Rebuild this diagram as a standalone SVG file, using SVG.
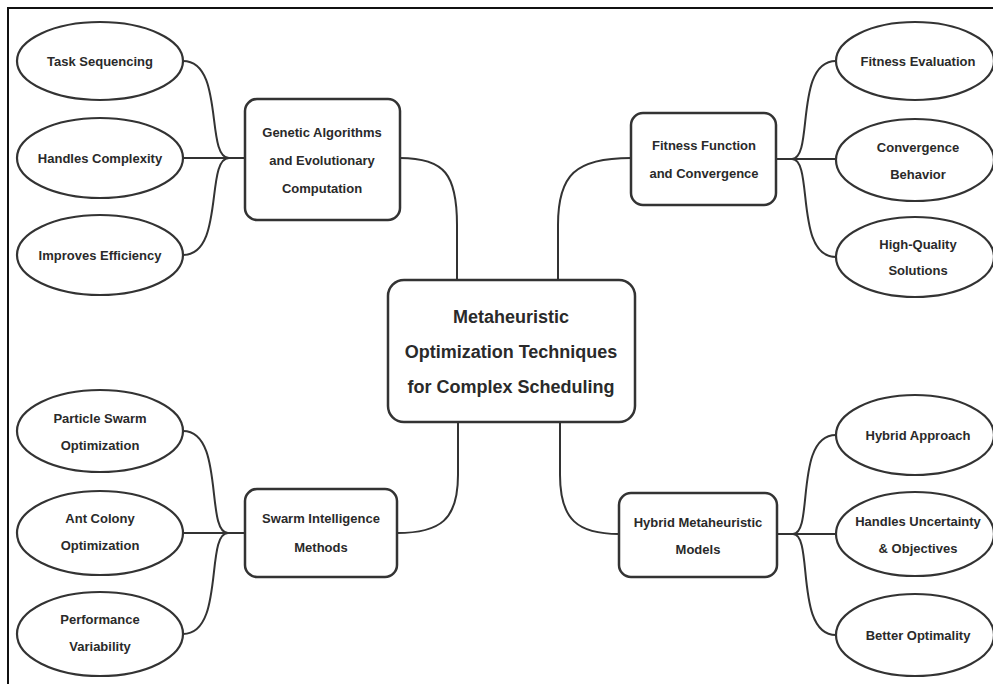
<svg xmlns="http://www.w3.org/2000/svg" width="993" height="684" viewBox="0 0 993 684">
  <style>
    .frame { fill: none; stroke: #111; stroke-width: 2; }
    .box { fill: #fff; stroke: #333; stroke-width: 2.5; }
    .leaf { fill: #fff; stroke: #333; stroke-width: 2.2; }
    .link { fill: none; stroke: #333; stroke-width: 2; }
    text { font-family: "Liberation Sans", Arial, sans-serif; font-weight: bold; fill: #2a2a2a; text-anchor: middle; }
    .t13 { font-size: 13px; }
    .t18 { font-size: 18px; }
  </style>

  <rect width="993" height="684" fill="#fff"/>
  <!-- frame edges: top and left -->
  <path class="frame" d="M8,684 L8,8 L993,8"/>

  <!-- connectors -->
  <g id="connectors">
    <!-- center to branch boxes -->
    <path class="link" d="M400,158 C445,158 457,175 457,225 L457,280"/>
    <path class="link" d="M558,280 L558,225 C558,175 575,158 631,158"/>
    <path class="link" d="M458,422 L458,475 C458,520 440,533 397,533"/>
    <path class="link" d="M560,422 L560,475 C560,520 578,534 619,534"/>
    <!-- genetic algorithms leaves -->
    <path class="link" d="M183,61 C225,61 205,158 229,158"/>
    <path class="link" d="M183,158 L245,158"/>
    <path class="link" d="M183,255 C225,255 205,158 229,158"/>
    <!-- fitness leaves -->
    <path class="link" d="M836,61 C794,61 814,159 792,159"/>
    <path class="link" d="M776,159 L836,159"/>
    <path class="link" d="M836,257 C794,257 814,159 792,159"/>
    <!-- swarm leaves -->
    <path class="link" d="M183,431 C225,431 205,533 228,533"/>
    <path class="link" d="M183,533 L245,533"/>
    <path class="link" d="M183,634 C225,634 205,533 228,533"/>
    <!-- hybrid leaves -->
    <path class="link" d="M836,435 C794,435 814,534 793,534"/>
    <path class="link" d="M777,534 L836,534"/>
    <path class="link" d="M836,635 C794,635 814,534 793,534"/>
  </g>

  <!-- central node -->
  <g id="center">
    <rect class="box" x="388" y="280" width="247" height="142" rx="16"/>
    <text class="t18" x="511" y="323">Metaheuristic</text>
    <text class="t18" x="511" y="358">Optimization Techniques</text>
    <text class="t18" x="511" y="393">for Complex Scheduling</text>
  </g>

  <!-- branch nodes -->
  <g id="genetic">
    <rect class="box" x="245" y="99" width="155" height="121" rx="12"/>
    <text class="t13" x="322" y="137">Genetic Algorithms</text>
    <text class="t13" x="322" y="165">and Evolutionary</text>
    <text class="t13" x="322" y="193">Computation</text>
  </g>
  <g id="fitness">
    <rect class="box" x="631" y="113" width="145" height="92" rx="12"/>
    <text class="t13" x="704" y="150">Fitness Function</text>
    <text class="t13" x="704" y="178">and Convergence</text>
  </g>
  <g id="swarm">
    <rect class="box" x="245" y="489" width="152" height="88" rx="12"/>
    <text class="t13" x="321" y="523">Swarm Intelligence</text>
    <text class="t13" x="321" y="552">Methods</text>
  </g>
  <g id="hybrid">
    <rect class="box" x="619" y="493" width="158" height="84" rx="12"/>
    <text class="t13" x="698" y="527">Hybrid Metaheuristic</text>
    <text class="t13" x="698" y="554">Models</text>
  </g>

  <!-- leaf nodes, left column -->
  <g id="task-sequencing">
    <ellipse class="leaf" cx="100" cy="61" rx="83" ry="39"/>
    <text class="t13" x="100" y="66">Task Sequencing</text>
  </g>
  <g id="handles-complexity">
    <ellipse class="leaf" cx="100" cy="158" rx="83" ry="40"/>
    <text class="t13" x="100" y="163">Handles Complexity</text>
  </g>
  <g id="improves-efficiency">
    <ellipse class="leaf" cx="100" cy="255" rx="83" ry="40"/>
    <text class="t13" x="100" y="260">Improves Efficiency</text>
  </g>
  <g id="particle-swarm">
    <ellipse class="leaf" cx="100" cy="431" rx="83" ry="41"/>
    <text class="t13" x="100" y="423">Particle Swarm</text>
    <text class="t13" x="100" y="450">Optimization</text>
  </g>
  <g id="ant-colony">
    <ellipse class="leaf" cx="100" cy="533" rx="83" ry="42"/>
    <text class="t13" x="100" y="523">Ant Colony</text>
    <text class="t13" x="100" y="550">Optimization</text>
  </g>
  <g id="performance-variability">
    <ellipse class="leaf" cx="100" cy="634" rx="83" ry="42"/>
    <text class="t13" x="100" y="624">Performance</text>
    <text class="t13" x="100" y="651">Variability</text>
  </g>

  <!-- leaf nodes, right column -->
  <g id="fitness-evaluation">
    <ellipse class="leaf" cx="915" cy="61" rx="79" ry="39"/>
    <text class="t13" x="918" y="66">Fitness Evaluation</text>
  </g>
  <g id="convergence-behavior">
    <ellipse class="leaf" cx="915" cy="160" rx="79" ry="41"/>
    <text class="t13" x="918" y="152">Convergence</text>
    <text class="t13" x="918" y="179">Behavior</text>
  </g>
  <g id="high-quality">
    <ellipse class="leaf" cx="915" cy="257" rx="79" ry="40"/>
    <text class="t13" x="918" y="249">High-Quality</text>
    <text class="t13" x="918" y="275">Solutions</text>
  </g>
  <g id="hybrid-approach">
    <ellipse class="leaf" cx="915" cy="435" rx="79" ry="40"/>
    <text class="t13" x="918" y="440">Hybrid Approach</text>
  </g>
  <g id="handles-uncertainty">
    <ellipse class="leaf" cx="915" cy="534" rx="79" ry="42"/>
    <text class="t13" x="918" y="526">Handles Uncertainty</text>
    <text class="t13" x="918" y="553">&amp; Objectives</text>
  </g>
  <g id="better-optimality">
    <ellipse class="leaf" cx="915" cy="635" rx="79" ry="41"/>
    <text class="t13" x="918" y="640">Better Optimality</text>
  </g>
</svg>
